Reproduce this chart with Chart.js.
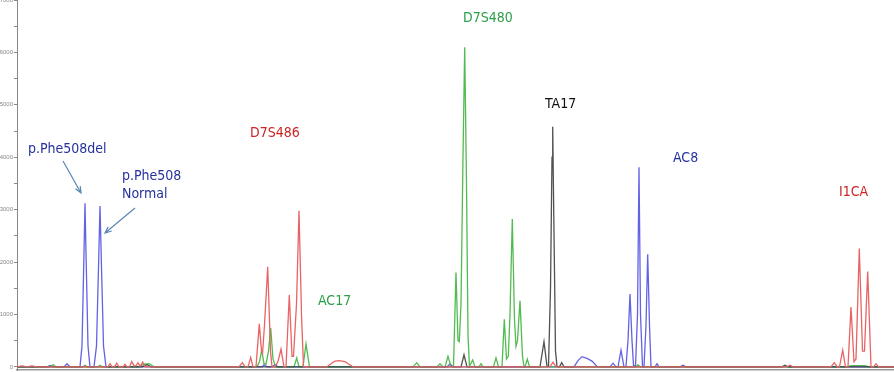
<!DOCTYPE html>
<html>
<head>
<meta charset="utf-8">
<script src="https://cdn.jsdelivr.net/npm/chart.js@4.4.1/dist/chart.umd.min.js"></script>
<style>
  html, body { margin: 0; padding: 0; background: #fff; }
  #trace { display: block; }
</style>
</head>
<body>
<canvas id="trace" width="894" height="372"></canvas>
<script>
// peak traces, [position, signal]
var blueTrace = [
  [0, 0], [30, 0], [33, 25], [36, 0], [47, 0], [50, 60], [53, 0],
  [63, 0], [65, 400], [66.8, 2000], [68, 3120], [69.2, 2000], [71, 400], [73, 0],
  [77, 0], [79.5, 400], [81.5, 1900], [83, 3070], [84.5, 1900], [86.5, 400], [89, 0],
  [245, 0], [247, 40], [250, 0], [255, 0], [258, 40], [261, 0], [430, 0], [433, 50], [436, 0],
  [557, 0], [561, 120], [565, 195], [570, 160], [575, 110], [580, 10],
  [593, 0], [596, 70], [599, 0], [601, 0], [604, 320], [607, 0],
  [609, 10], [611, 500], [613, 1390], [615, 500], [616.5, 30],
  [618.5, 10], [620.5, 1000], [622, 3810], [623.5, 1000], [625.5, 10],
  [627, 0], [629, 800], [630.7, 2150], [632.5, 800], [634, 0],
  [638, 0], [640, 60], [642, 0], [663, 0], [666, 30], [669, 0], [877, 0]
];

var greenTrace = [
  [0, 0], [33, 0], [36, 40], [39, 0], [66, 0], [68, 30], [70, 0], [81, 0], [83, 30], [85, 0],
  [122, 0], [127, 50], [132, 60], [137, 0],
  [240, 0], [242.5, 100], [244.7, 320], [247, 60], [249, 50], [251.5, 300], [253.7, 740], [256, 150], [258.5, 0],
  [277, 0], [279.7, 170], [282, 0], [286, 0], [289, 440], [292.5, 0],
  [396, 0], [399.7, 80], [403, 0], [420, 0], [423, 60], [426, 0],
  [428, 0], [431, 200], [434, 10], [436.5, 10], [439, 1800], [441, 500], [442.3, 480],
  [444, 1200], [446, 4000], [447.7, 6100], [449.5, 3500], [451, 600], [452.5, 10], [455.7, 130], [458, 0],
  [462, 0], [464, 60], [466, 0],
  [476.5, 0], [479, 170], [481.5, 0], [485, 0], [487.3, 910], [489.5, 150], [491.3, 200],
  [493, 1000], [495.3, 2820], [497.5, 900], [499, 390], [500.5, 500], [503, 1260], [505.5, 200], [507, 0],
  [508, 0], [510.3, 150], [512.5, 0],
  [619, 0], [621, 40], [623, 0], [830, 0], [835, 25], [848, 25], [852, 0], [877, 0]
];

var blackTrace = [
  [0, 0], [125, 0], [130, 40], [134, 0], [444, 0], [447, 230], [450, 0],
  [523, 0], [527, 480], [530, 10], [531.5, 10], [533.5, 1500], [535, 4000], [535.7, 4580],
  [536.7, 3000], [538.5, 300], [540, 10], [542.5, 0], [544.7, 80], [547, 0],
  [765, 0], [768, 30], [771, 0], [877, 0]
];

var redTrace = [
  [0, 0], [5, 20], [10, 0], [15, 20], [20, 0],
  [91, 0], [93, 60], [95, 0], [97.5, 0], [99.7, 70], [102, 0], [106, 0], [108, 50], [110, 0],
  [112.5, 0], [114.7, 100], [117, 20], [119, 20], [121, 80], [123, 10], [125.7, 90], [128, 0],
  [222, 0], [225.3, 80], [228, 0], [231, 0], [233.7, 180], [236, 0], [239, 0], [242.3, 820],
  [244.5, 300], [245.5, 250], [247.5, 800], [250.7, 1910], [253.5, 300], [255, 0],
  [258, 0], [261, 100], [264, 340], [267, 0], [269, 0], [272.3, 1370], [275, 200], [276.5, 200],
  [279.5, 1200], [282, 2980], [284.5, 1000], [286.5, 0],
  [310, 0], [314, 60], [318, 110], [322, 120], [328, 100], [332, 50], [336, 0],
  [533, 0], [536, 90], [539, 0], [770, 0], [773, 30], [776, 0],
  [814, 0], [817.3, 80], [820, 0], [822.5, 0], [825.7, 320], [828.5, 0], [831, 0], [834, 1140],
  [837, 100], [839, 150], [842.3, 2260], [845.5, 300], [847.5, 300], [850.7, 1820], [854, 0],
  [856.5, 0], [859, 60], [861.5, 0], [877, 0]
];

// y axis: minor marks every 500, labels every 1000
var yTickValues = [0, 500, 1000, 1500, 2000, 2500, 3000, 3500, 4000, 4500, 5000, 5500, 6000, 6500, 7000];

// marker names, placed in data units (left edge, middle of text)
var markerNames = ['p.Phe508del', 'p.Phe508', 'Normal', 'D7S486', 'AC17', 'D7S480', 'TA17', 'AC8', 'I1CA'];
var markerX = [11, 105, 105, 233, 301, 446, 528, 656, 822];
var markerY = [4157, 3642, 3298, 4462, 1257, 6657, 5016, 3985, 3336];
var markerColors = ['#26319e', '#26319e', '#26319e', '#cc2424', '#2a9e48', '#2a9e48', '#111111', '#26319e', '#cc2424'];

function toPoints(trace) {
    return trace.map(function (p) { return { x: p[0], y: p[1] }; });
}

var markerPlugin = {
    id: 'markerPlugin',
    afterDatasetsDraw: function (chart) {
        var ctx = chart.ctx;
        var xs = chart.scales.x, ys = chart.scales.y;
        ctx.save();
        ctx.font = '14px "DejaVu Sans Condensed", "DejaVu Sans", sans-serif';
        ctx.textBaseline = 'middle';
        ctx.textAlign = 'left';
        for (var i = 0; i < markerNames.length; i++) {
            ctx.fillStyle = markerColors[i];
            ctx.fillText(markerNames[i], xs.getPixelForValue(markerX[i]), ys.getPixelForValue(markerY[i]));
        }

        // the two arrows pointing at the Phe508 peaks
        var arrows = [[46, 3928, 64, 3317], [118, 3031, 88, 2554]];
        ctx.strokeStyle = '#5a86b4';
        ctx.lineWidth = 1.2;
        arrows.forEach(function (a) {
            var x1 = xs.getPixelForValue(a[0]), y1 = ys.getPixelForValue(a[1]);
            var x2 = xs.getPixelForValue(a[2]), y2 = ys.getPixelForValue(a[3]);
            var ang = Math.atan2(y2 - y1, x2 - x1);
            ctx.beginPath();
            ctx.moveTo(x1, y1);
            ctx.lineTo(x2, y2);
            ctx.moveTo(x2 - 7 * Math.cos(ang - 0.4), y2 - 7 * Math.sin(ang - 0.4));
            ctx.lineTo(x2, y2);
            ctx.lineTo(x2 - 7 * Math.cos(ang + 0.4), y2 - 7 * Math.sin(ang + 0.4));
            ctx.stroke();
        });
        ctx.restore();
    }
};

var ctx = document.getElementById('trace').getContext('2d');

// chart.js paints the first dataset on top, so red (the baseline colour) goes first
var traceChart = new Chart(ctx, {
    type: 'line',
    data: {
        datasets: [
            { label: 'red', data: toPoints(redTrace), borderColor: 'rgb(232,100,100)' },
            { label: 'black', data: toPoints(blackTrace), borderColor: 'rgba(50,50,50,0.85)' },
            { label: 'green', data: toPoints(greenTrace), borderColor: 'rgba(50,175,50,0.85)' },
            { label: 'blue', data: toPoints(blueTrace), borderColor: 'rgba(70,70,225,0.85)' }
        ]
    },
    options: {
        responsive: false,
        animation: false,
        devicePixelRatio: 1,
        layout: { padding: 0 },
        elements: {
            point: { radius: 0 },
            line: { borderWidth: 1.3, tension: 0, fill: false }
        },
        plugins: {
            legend: { display: false },
            tooltip: { enabled: false }
        },
        scales: {
            x: {
                type: 'linear',
                min: 0,
                max: 877,
                ticks: { display: false },
                grid: { display: false },
                border: { color: '#999', width: 1.5 },
                afterFit: function (scale) { scale.height = 2; }
            },
            y: {
                min: -60,
                max: 7000,
                afterBuildTicks: function (scale) {
                    scale.ticks = yTickValues.map(function (v) { return { value: v }; });
                },
                ticks: {
                    padding: 1,
                    autoSkip: false,
                    color: '#888',
                    font: { size: 6 },
                    callback: function (v) { return v % 1000 === 0 ? String(v) : ''; }
                },
                grid: { drawOnChartArea: false, tickLength: 3, color: '#888' },
                border: { color: '#888', width: 1 },
                afterFit: function (scale) {
                    scale.width = 17;
                    scale.paddingTop = 0;
                    scale.paddingBottom = 0;
                }
            }
        }
    },
    plugins: [markerPlugin]
});
</script>
</body>
</html>
